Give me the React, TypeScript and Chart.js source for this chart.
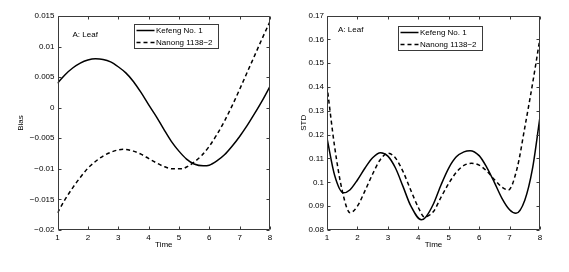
import React, { useEffect, useRef } from 'react';
import { Chart, registerables } from 'chart.js';
Chart.register(...registerables);

const FONT = "'Liberation Sans', Arial, Helvetica, sans-serif";

const seriesLabels = ['Kefeng No. 1', 'Nanong 1138\u22122'];
const panelNote = 'A: Leaf';
const xTitle = 'Time';
const xTicks = [1, 2, 3, 4, 5, 6, 7, 8];

// Panel 1: Bias
const biasKefengTime = [1, 1.25, 1.5, 1.75, 2, 2.25, 2.5, 2.75, 3, 3.25, 3.5, 3.75, 4, 4.25, 4.5, 4.75, 5, 5.25, 5.5, 5.8, 6, 6.25, 6.5, 6.75, 7, 7.25, 7.5, 7.75, 8];
const biasKefeng = [0.004, 0.0054, 0.0065, 0.0073, 0.0078, 0.008, 0.0079, 0.0075, 0.0067, 0.0057, 0.0043, 0.0025, 0.0005, -0.0014, -0.0035, -0.0055, -0.0071, -0.0084, -0.0092, -0.0095, -0.0094, -0.0087, -0.0077, -0.0063, -0.0047, -0.0029, -0.0009, 0.0012, 0.0035];
const biasNanongTime = [1, 1.25, 1.5, 1.75, 2, 2.25, 2.5, 2.75, 3, 3.2, 3.5, 3.75, 4, 4.25, 4.5, 4.8, 5.1, 5.25, 5.5, 5.75, 6, 6.25, 6.5, 6.75, 7, 7.25, 7.5, 7.75, 8];
const biasNanong = [-0.0172, -0.015, -0.0131, -0.0114, -0.0099, -0.0088, -0.0079, -0.0073, -0.0069, -0.0068, -0.0071, -0.0076, -0.0083, -0.009, -0.0096, -0.01, -0.01, -0.0097, -0.0089, -0.0078, -0.0063, -0.0044, -0.0022, 0.0003, 0.003, 0.0058, 0.0086, 0.0114, 0.0141];

// Panel 2: STD
const stdKefengTime = [1, 1.25, 1.54, 1.75, 2, 2.25, 2.5, 2.76, 3, 3.25, 3.5, 3.75, 4.1, 4.25, 4.5, 4.75, 5, 5.25, 5.5, 5.7, 6, 6.25, 6.5, 6.75, 7, 7.21, 7.5, 7.75, 8];
const stdKefeng = [0.1185, 0.103, 0.0956, 0.0968, 0.101, 0.106, 0.1103, 0.1124, 0.111, 0.106, 0.0982, 0.0902, 0.0843, 0.0855, 0.091, 0.099, 0.106, 0.1107, 0.1128, 0.1133, 0.1112, 0.1063, 0.1, 0.0933, 0.0885, 0.087, 0.0925, 0.1055, 0.1275];
const stdNanongTime = [1, 1.25, 1.5, 1.76, 2, 2.25, 2.5, 2.75, 3, 3.25, 3.5, 3.75, 4, 4.2, 4.5, 4.75, 5, 5.25, 5.5, 5.75, 6, 6.25, 6.5, 6.75, 6.96, 7.25, 7.5, 7.75, 8];
const stdNanong = [0.1405, 0.115, 0.0965, 0.0872, 0.09, 0.0965, 0.1035, 0.1095, 0.1122, 0.1102, 0.1045, 0.0968, 0.0895, 0.0855, 0.0878, 0.0938, 0.0995, 0.1042, 0.1071, 0.108, 0.1072, 0.1047, 0.1012, 0.098, 0.0968, 0.106, 0.123, 0.141, 0.1605];

function fmt(v: number) {
  const r = Math.round(v * 1000) / 1000;
  return String(r).replace('-', '\u2212');
}

const frameTicks = {
  id: 'frameTicks',
  afterDraw(chart: any) {
    const { ctx, chartArea: a, scales } = chart;
    const L = Math.round(a.left) + 0.5;
    const R = Math.round(a.right) - 0.5;
    const T = Math.round(a.top) + 0.5;
    const B = Math.round(a.bottom) - 0.5;
    const len = 3;
    ctx.save();
    ctx.strokeStyle = '#3a3a3a';
    ctx.lineWidth = 1;
    ctx.setLineDash([]);
    ctx.beginPath();
    ctx.rect(L, T, R - L, B - T);
    scales.x.ticks.forEach((t: any) => {
      const px = Math.round(scales.x.getPixelForValue(t.value)) + 0.5;
      ctx.moveTo(px, B); ctx.lineTo(px, B - len);
      ctx.moveTo(px, T); ctx.lineTo(px, T + len);
    });
    scales.y.ticks.forEach((t: any) => {
      const py = Math.round(scales.y.getPixelForValue(t.value)) + 0.5;
      ctx.moveTo(L, py); ctx.lineTo(L + len, py);
      ctx.moveTo(R, py); ctx.lineTo(R - len, py);
    });
    ctx.stroke();
    ctx.restore();
  },
};

const boxLegend = {
  id: 'boxLegend',
  afterDraw(chart: any, _args: any, opts: any) {
    const { ctx, chartArea: a } = chart;
    const ds = chart.data.datasets;
    ctx.save();
    ctx.font = `8px ${FONT}`;
    const tw = Math.max(...ds.map((d: any) => ctx.measureText(d.label).width));
    const x = Math.round(a.left + opts.dx) + 0.5;
    const y = Math.round(a.top + opts.dy) + 0.5;
    const w = Math.round(2 + 18 + 2 + tw + 5);
    const h = 24;
    ctx.fillStyle = '#fff';
    ctx.fillRect(x, y, w, h);
    ctx.strokeStyle = '#3a3a3a';
    ctx.lineWidth = 1;
    ctx.strokeRect(x, y, w, h);
    ds.forEach((d: any, i: number) => {
      const cy = y + 6 + i * 12;
      ctx.beginPath();
      ctx.setLineDash(d.borderDash || []);
      ctx.lineWidth = d.borderWidth;
      ctx.strokeStyle = d.borderColor;
      ctx.moveTo(x + 2, cy);
      ctx.lineTo(x + 20, cy);
      ctx.stroke();
      ctx.setLineDash([]);
      ctx.fillStyle = '#000';
      ctx.textBaseline = 'middle';
      ctx.textAlign = 'left';
      ctx.fillText(d.label, x + 21.5, cy);
    });
    ctx.restore();
  },
};

const noteText = {
  id: 'noteText',
  afterDraw(chart: any, _args: any, opts: any) {
    const { ctx, chartArea: a } = chart;
    ctx.save();
    ctx.font = `8px ${FONT}`;
    ctx.fillStyle = '#000';
    ctx.textBaseline = 'middle';
    ctx.textAlign = 'left';
    ctx.fillText(opts.text, a.left + opts.dx, a.top + opts.dy);
    ctx.restore();
  },
};

type PanelProps = {
  left: number;
  width: number;
  yAxisWidth: number;
  padTop: number;
  padRight: number;
  yMin: number;
  yMax: number;
  yStep: number;
  yTitle: string;
  yTitlePad: number;
  t1: number[];
  v1: number[];
  t2: number[];
  v2: number[];
  legendDx: number;
  legendDy: number;
  noteDx: number;
  noteDy: number;
};

function Panel(p: PanelProps) {
  const ref = useRef<HTMLCanvasElement | null>(null);
  useEffect(() => {
    if (!ref.current) return;
    const tickFont = { family: FONT, size: 8 };
    const chart = new Chart(ref.current, {
      type: 'line',
      data: {
        datasets: [
          {
            label: seriesLabels[0],
            data: p.t1.map((t, i) => ({ x: t, y: p.v1[i] })),
            borderColor: '#000',
            borderWidth: 1.5,
            pointRadius: 0,
            tension: 0.4,
            cubicInterpolationMode: 'monotone',
            fill: false,
          },
          {
            label: seriesLabels[1],
            data: p.t2.map((t, i) => ({ x: t, y: p.v2[i] })),
            borderColor: '#000',
            borderWidth: 1.5,
            borderDash: [4, 3],
            pointRadius: 0,
            tension: 0.4,
            cubicInterpolationMode: 'monotone',
            fill: false,
          },
        ],
      },
      options: {
        responsive: false,
        animation: false,
        devicePixelRatio: 1,
        layout: { padding: { left: 0, top: p.padTop, right: p.padRight, bottom: 0 } },
        plugins: {
          legend: { display: false },
          tooltip: { enabled: false },
          boxLegend: { dx: p.legendDx, dy: p.legendDy },
          noteText: { text: panelNote, dx: p.noteDx, dy: p.noteDy },
        } as any,
        scales: {
          x: {
            type: 'linear',
            min: 1,
            max: 8,
            afterBuildTicks: (s: any) => {
              s.ticks = xTicks.map((v) => ({ value: v }));
            },
            afterFit: (s: any) => {
              s.height = 42;
            },
            grid: { display: false, drawTicks: false },
            border: { display: false },
            ticks: { color: '#000', font: tickFont, padding: 3, maxRotation: 0, autoSkip: false, callback: (v: any) => String(v) },
            title: { display: true, text: xTitle, color: '#000', font: tickFont, padding: { top: 0, bottom: 22 } },
          },
          y: {
            type: 'linear',
            min: p.yMin,
            max: p.yMax,
            afterFit: (s: any) => {
              s.width = p.yAxisWidth;
            },
            grid: { display: false, drawTicks: false },
            border: { display: false },
            ticks: { color: '#000', font: tickFont, padding: 3, stepSize: p.yStep, autoSkip: false, callback: (v: any) => fmt(Number(v)) },
            title: { display: true, text: p.yTitle, color: '#000', font: tickFont, padding: { top: p.yTitlePad, bottom: 0 } },
          },
        },
      } as any,
      plugins: [frameTicks, boxLegend, noteText],
    });
    return () => chart.destroy();
  }, []);
  return (
    <canvas
      ref={ref}
      width={p.width}
      height={272}
      style={{ position: 'absolute', left: p.left, top: 0, width: p.width, height: 272 }}
    />
  );
}

export default function App() {
  return (
    <div style={{ position: 'absolute', left: 0, top: 0, width: 569, height: 272, background: '#fff', overflow: 'hidden' }}>
      <Panel
        left={0}
        width={285}
        yAxisWidth={57.5}
        padTop={16}
        padRight={15}
        yMin={-0.02}
        yMax={0.015}
        yStep={0.005}
        yTitle="Bias"
        yTitlePad={15.5}
        t1={biasKefengTime}
        v1={biasKefeng}
        t2={biasNanongTime}
        v2={biasNanong}
        legendDx={76}
        legendDy={8}
        noteDx={15}
        noteDy={18.5}
      />
      <Panel
        left={284}
        width={285}
        yAxisWidth={43}
        padTop={15.5}
        padRight={29}
        yMin={0.08}
        yMax={0.17}
        yStep={0.01}
        yTitle="STD"
        yTitlePad={14.5}
        t1={stdKefengTime}
        v1={stdKefeng}
        t2={stdNanongTime}
        v2={stdNanong}
        legendDx={71}
        legendDy={10.5}
        noteDx={11}
        noteDy={14}
      />
    </div>
  );
}
